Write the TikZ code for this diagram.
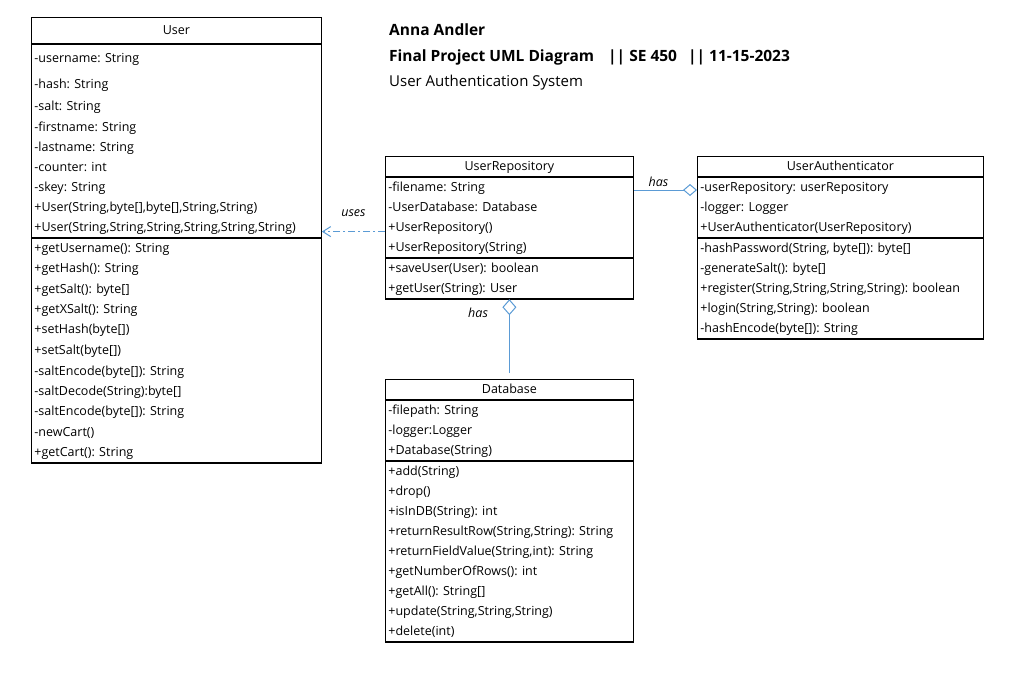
\documentclass[tikz,border=0pt]{standalone}
\usepackage{fontspec}
\setmainfont{Open Sans}
\usetikzlibrary{positioning,arrows.meta,shapes.multipart}

\definecolor{linkblue}{RGB}{91,155,213}

\begin{document}
\begin{tikzpicture}[x=1pt, y=-1pt,
    umlclass/.style={rectangle split, rectangle split parts=3, draw, line width=0.8pt,
                     fill=white, align=left, anchor=north west,
                     font=\fontsize{12.5}{20}\selectfont, inner xsep=3pt, inner ysep=0pt,
                     rectangle split part align={center,left,left},
                     postaction={draw, line width=1.8pt}},
    hdr/.style={anchor=west, inner sep=0pt, font=\fontsize{15}{18}\selectfont},
    assoc/.style={draw=linkblue, line width=1pt},
    lbl/.style={font=\itshape\fontsize{12.5}{14}\selectfont, inner sep=1pt}]
  \useasboundingbox (0,0) rectangle (1033,678);

  % header
  \node[hdr, font=\bfseries\fontsize{15.5}{18}\selectfont] (author) at (389,30) {Anna Andler};
  \node[hdr, font=\bfseries\fontsize{15.5}{18}\selectfont] (course) at (389,57)
    {Final Project UML Diagram\hspace{14pt}|| SE 450\hspace{11pt}|| 11-15-2023};
  \node[hdr] (system) at (389,83) {User Authentication System};

  % classes
  \node[umlclass, minimum width=290pt] (user) at (31,17) {\rule[-9pt]{0pt}{26pt}User
    \nodepart{two}\rule{0pt}{18pt}-username: String\\[6pt]
    -hash: String\\[2pt]
    -salt: String\\[1pt]
    -firstname: String\\
    -lastname: String\\
    -counter: int\\
    -skey: String\\
    +User(String,byte[],byte[],String,String)\\
    +User(String,String,String,String,String,String)\strut
    \nodepart{three}\strut +getUsername(): String\\
    +getHash(): String\\[1pt]
    +getSalt(): byte[]\\
    +getXSalt(): String\\
    +setHash(byte[])\\[1pt]
    +setSalt(byte[])\\[1pt]
    -saltEncode(byte[]): String\\
    -saltDecode(String):byte[]\\
    -saltEncode(byte[]): String\\[1pt]
    -newCart()\\
    +getCart(): String\strut};

  \node[umlclass, minimum width=248pt] (urepo) at (385,156) {\strut UserRepository\strut
    \nodepart{two}\strut -filename: String\\
    -UserDatabase: Database\\
    +UserRepository()\\
    +UserRepository(String)\strut
    \nodepart{three}\strut +saveUser(User): boolean\\
    +getUser(String): User\strut};

  \node[umlclass, minimum width=286pt] (auth) at (697,156) {\strut UserAuthenticator\strut
    \nodepart{two}\strut -userRepository: userRepository\\
    -logger: Logger\\
    +UserAuthenticator(UserRepository)\strut
    \nodepart{three}\strut -hashPassword(String, byte[]): byte[]\\
    -generateSalt(): byte[]\\
    +register(String,String,String,String): boolean\\
    +login(String,String): boolean\\
    -hashEncode(byte[]): String\strut};

  \node[umlclass, minimum width=248pt] (db) at (385,379) {\strut Database\strut
    \nodepart{two}\strut -filepath: String\\
    -logger:Logger\\
    +Database(String)\strut
    \nodepart{three}\strut +add(String)\\
    +drop()\\
    +isInDB(String): int\\
    +returnResultRow(String,String): String\\
    +returnFieldValue(String,int): String\\
    +getNumberOfRows(): int\\
    +getAll(): String[]\\
    +update(String,String,String)\\
    +delete(int)\strut};

  % relations
  \coordinate (usesfrom) at ([yshift=-4pt]urepo.west);
  \coordinate (hasfrom) at ([yshift=-34pt]urepo.north east);
  \coordinate (dbtop) at ([yshift=6pt]db.north);
  \draw[assoc, dash pattern=on 7pt off 3pt on 2pt off 3pt,
        -{Straight Barb[length=8pt, width=10pt]}] (usesfrom) -- (usesfrom -| user.east)
    node[lbl, midway, above=13pt] (useslbl) {uses};
  \draw[assoc, -{Diamond[open, length=14pt, width=12pt]}] (hasfrom) -- (hasfrom -| auth.west)
    node[lbl, midway, above=2pt, xshift=-7pt] (authlbl) {has};
  \draw[assoc, -{Diamond[open, length=16pt, width=14pt]}] (dbtop) -- (urepo.south)
    node[lbl, pos=0.82, left=20pt] (dblbl) {has};
\end{tikzpicture}
\end{document}
